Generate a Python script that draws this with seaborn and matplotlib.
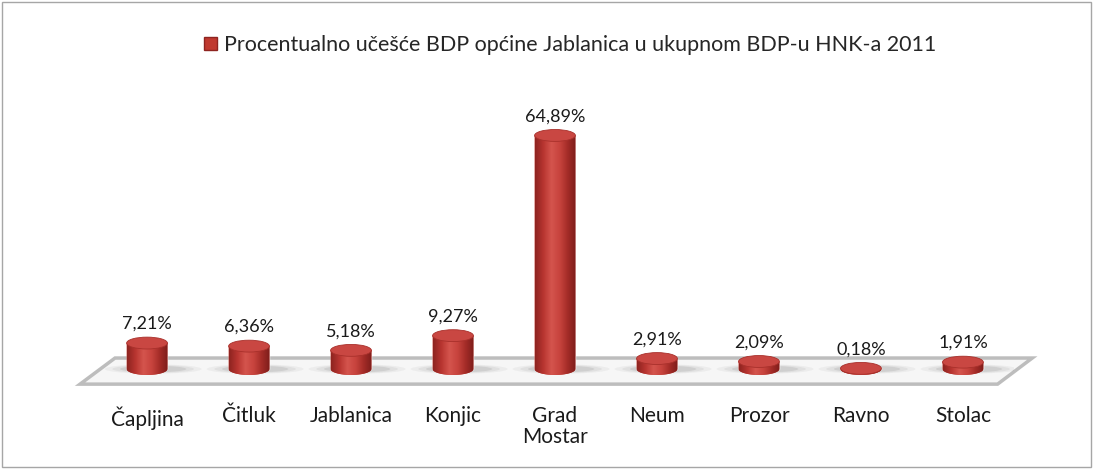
import numpy as np
import pandas as pd
import seaborn as sns
import matplotlib.pyplot as plt
from matplotlib.patches import Ellipse, Polygon, Rectangle, Patch
from matplotlib.colors import LinearSegmentedColormap

# data
municipalities = ["Čapljina", "Čitluk", "Jablanica", "Konjic", "Grad\nMostar",
                  "Neum", "Prozor", "Ravno", "Stolac"]
shares = [7.21, 6.36, 5.18, 9.27, 64.89, 2.91, 2.09, 0.18, 1.91]
series_name = "Procentualno učešće BDP općine Jablanica u ukupnom BDP-u HNK-a 2011"

df = pd.DataFrame({"opcina": municipalities, "udio": shares})

sns.set_theme(style="white")
plt.rcParams["font.family"] = ["Lato", "DejaVu Sans"]

red = "#C0392F"
dark_red = "#8E2420"
cyl = LinearSegmentedColormap.from_list(
    "cyl", ["#8E2420", "#B83530", "#D4544D", "#C8443E", "#A52C28", "#7E1E1B"])

bar_w = 0.4
cap_h = 3.3   # ellipse height in data units

fig = plt.figure(figsize=(10.94, 4.69), dpi=100)
ax = fig.add_axes([0.0878, 0.1518, 0.839, 0.660])

sns.barplot(data=df, x="opcina", y="udio", color=red, width=bar_w,
            saturation=1, ax=ax, zorder=3)

ax.set_xlim(-0.5, len(shares) - 0.5)
ax.set_ylim(-8, 78)

# floor of the 3d chart
floor = Polygon([(-0.657, -4.2), (-0.314, 3.05), (8.68, 3.05), (8.34, -4.2)],
                closed=True, facecolor="#F6F6F6", edgecolor="#BDBDBD",
                lw=2.5, clip_on=False, zorder=1)
ax.add_patch(floor)

grad = np.linspace(0, 1, 64).reshape(1, -1)
theta = np.linspace(np.pi, 2 * np.pi, 40)

for i, (patch, v) in enumerate(zip(ax.patches, shares)):
    x0 = patch.get_x()
    w = patch.get_width()
    h = patch.get_height()
    cx = x0 + w / 2
    # soft shadow on the floor
    for k, a in enumerate([0.06, 0.08, 0.12]):
        ax.add_patch(Ellipse((cx + 0.06, 0), 0.95 - k * 0.15, 2.6 - k * 0.4,
                             facecolor="#555555", edgecolor="none",
                             alpha=a, zorder=2))
    # cylinder body = bar + lower half ellipse
    arc_x = cx + (w / 2) * np.cos(theta)
    arc_y = (cap_h / 2) * np.sin(theta)
    pts = [(x0, h)] + list(zip(arc_x, arc_y)) + [(x0 + w, h)]
    body = Polygon(pts, closed=True, facecolor=red, edgecolor="none", zorder=3)
    ax.add_patch(body)
    im = ax.imshow(grad, cmap=cyl, aspect="auto",
                   extent=(x0, x0 + w, -cap_h / 2, h), zorder=3.5)
    im.set_clip_path(body)
    # top cap
    ax.add_patch(Ellipse((cx, h), w, cap_h, facecolor="#C94742",
                         edgecolor="#A8302B", lw=0.6, zorder=4))
    label = f"{v:.2f}".replace(".", ",") + "%"
    ax.annotate(label, (cx, h), xytext=(0, 8), textcoords="offset points",
                ha="center", va="bottom", fontsize=13, color="#1A1A1A")

ax.set_xlim(-0.5, len(shares) - 0.5)
ax.set_ylim(-8, 78)
ax.set_xlabel("")
ax.set_ylabel("")
ax.set_yticks([])
ax.tick_params(axis="x", length=0, pad=6, labelsize=15, labelcolor="#1A1A1A")
for t in ax.get_xticklabels():
    t.set_linespacing(1.05)
sns.despine(ax=ax, left=True, bottom=True)
ax.patch.set_alpha(0)

handles = [Patch(facecolor=red, edgecolor=dark_red)]
fig.legend(handles, [series_name], loc="center", bbox_to_anchor=(0.521, 0.904),
           frameon=False, fontsize=15.5, handlelength=0.6, handleheight=0.6,
           handletextpad=0.3)

fig.add_artist(Rectangle((0.002, 0.004), 0.995, 0.992, transform=fig.transFigure,
                         fill=False, edgecolor="#A6A6A6", lw=1))

fig.savefig("out.png", dpi=100)
